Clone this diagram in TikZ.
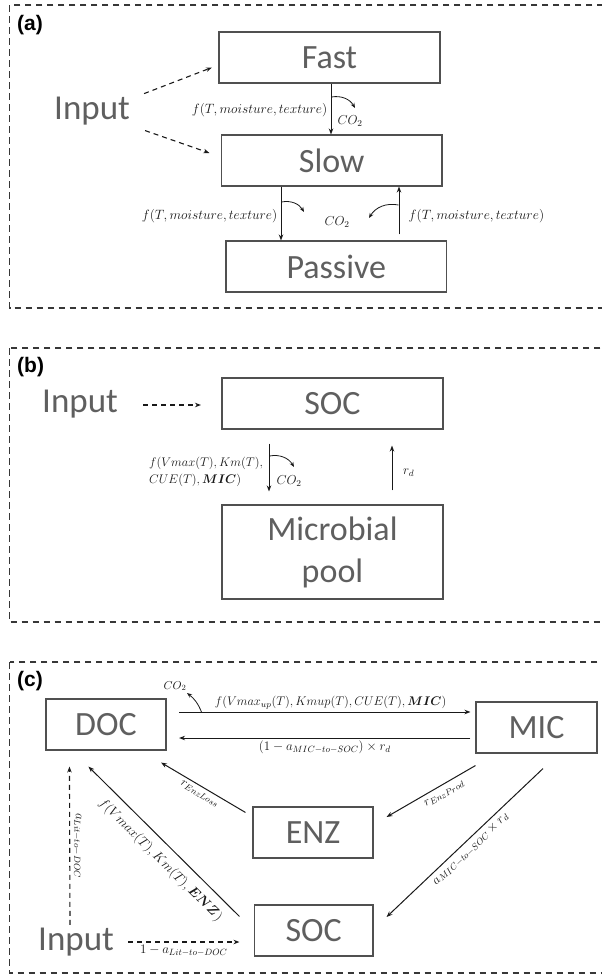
\RequirePackage{fix-cm}
\documentclass[tikz,border=0pt]{standalone}
\usepackage{amsmath}
\usepackage{bm}
\usepackage{fontspec}
\newfontfamily\boxfont{Carlito}
\newfontfamily\tagfont{Liberation Sans}
\usetikzlibrary{arrows.meta,calc}
\definecolor{txtgray}{RGB}{95,95,95}
\definecolor{boxgray}{RGB}{80,80,80}
\definecolor{framegray}{RGB}{55,55,55}
\definecolor{arrcol}{RGB}{25,25,25}
\begin{document}
\begin{tikzpicture}[x=1pt,y=-1pt,
  box/.style={draw=boxgray,line width=1.1pt,inner sep=0pt,text=txtgray,
    font=\boxfont\fontsize{34}{42}\selectfont},
  frame/.style={draw=framegray,line width=1.3pt,dash pattern=on 6.5pt off 4.5pt},
  arr/.style={draw=arrcol,line width=1pt,-{Stealth[length=6pt,width=4.5pt]}},
  rarr/.style={draw=arrcol,line width=1pt,{Stealth[length=6pt,width=4.5pt]}-},
  darr/.style={arr,line width=1.1pt,dash pattern=on 5pt off 4pt},
  carr/.style={draw=arrcol,line width=0.8pt,-{Stealth[length=5pt,width=4pt]}},
  inlbl/.style={text=txtgray,font=\boxfont\fontsize{35}{42}\selectfont,inner sep=0pt},
  tag/.style={font=\tagfont\bfseries\fontsize{21}{24}\selectfont,inner sep=0pt,anchor=west},
  lbl/.style={font=\fontsize{13.5}{16}\selectfont,inner sep=1.5pt,text=arrcol},
  mlbl/.style={font=\fontsize{13}{15}\selectfont,inner sep=2pt,text=arrcol},
  slbl/.style={font=\fontsize{12.5}{14}\selectfont,inner sep=2pt,text=arrcol},
]
\useasboundingbox (0,0) rectangle (602,977);

% ---------------- panel (a)
\draw[frame] (9.6,5) rectangle (614,308);
\node[tag] (taga) at (17,25) {(a)};
\node[box,minimum width=221pt,minimum height=51pt] (fast) at (329.5,57.5) {Fast};
\node[box,minimum width=220.5pt,minimum height=51pt] (slow) at (331.75,160.5) {Slow};
\node[box,minimum width=220.5pt,minimum height=51pt] (passive) at (336.25,266.5) {Passive};
\node[inlbl,anchor=base west] (ina) at (54,119) {Input};
\draw[darr] ($(ina.east)+(14,-17)$) -- ($(fast.west)+(-6.5,10)$);
\draw[darr] ($(ina.east)+(15,20)$) -- ($(slow.west)+(-11.5,-7.5)$);

\coordinate (xa1) at (331,0);
\coordinate (xa2) at (281,0);
\coordinate (xa3) at (399,0);
\draw[arr] (fast.south -| xa1) -- (slow.north -| xa1);
\draw[arr] (slow.south -| xa2) -- (passive.north -| xa2);
\draw[arr,shorten <=6pt] (passive.north -| xa3) -- (slow.south -| xa3);

\coordinate (ca1s) at (331.5,97);
\coordinate (ca1e) at (355,108);
\draw[carr] (ca1s) to[bend left=35] (ca1e);
\coordinate (ca2s) at (281.5,202);
\coordinate (ca2e) at (304,212);
\draw[carr] (ca2s) to[bend left=35] (ca2e);
\coordinate (ca3s) at (398.5,205);
\coordinate (ca3e) at (369,218);
\draw[carr] (ca3s) to[bend right=35] (ca3e);

\node[lbl,anchor=east] (la1) at (329,110) {$f(T,moisture,texture)$};
\node[mlbl] (co2a1) at (350,121) {$CO_2$};
\node[lbl,anchor=east] (la2) at (279,216) {$f(T,moisture,texture)$};
\node[lbl,anchor=west] (la3) at (407,216) {$f(T,moisture,texture)$};
\node[mlbl] (co2a2) at (337,222) {$CO_2$};

% ---------------- panel (b)
\draw[frame] (9.6,348) rectangle (614,622);
\node[tag] (tagb) at (17,367) {(b)};
\node[inlbl,anchor=base west] (inb) at (42,412) {Input};
\node[box,minimum width=221pt,minimum height=51pt] (socb) at (332.5,403.5) {SOC};
\node[box,minimum width=221pt,minimum height=94pt,align=center] (micb) at (332.5,552) {Microbial\\pool};
\draw[darr] ($(inb.east |- socb.west)+(25,1.5)$) -- ($(socb.west)+(-20.5,1.5)$);

\coordinate (xb1) at (269,0);
\coordinate (xb2) at (392,0);
\draw[arr,shorten <=14pt,shorten >=13pt] (socb.south -| xb1) -- (micb.north -| xb1);
\draw[arr,shorten <=14pt,shorten >=16pt] (micb.north -| xb2) -- (socb.south -| xb2);
\coordinate (cbs) at (269.5,456);
\coordinate (cbe) at (294,467);
\draw[carr] (cbs) to[bend left=35] (cbe);
\node[mlbl] (co2b) at (289,481) {$CO_2$};
\node[font=\fontsize{12.5}{17}\selectfont,text=arrcol,inner sep=0pt,anchor=west,align=left] (lb1) at (149,471.5)
  {$f(Vmax(T),Km(T),$\\$CUE(T),\bm{MIC})$};
\node[mlbl,anchor=west] (rdb) at (401,473) {$r_d$};

% ---------------- panel (c)
\draw[frame] (9.6,662) rectangle (614,973);
\node[tag] (tagc) at (17,681) {(c)};
\node[box,minimum width=120pt,minimum height=51pt] (doc) at (106,724.5) {DOC};
\node[box,minimum width=121pt,minimum height=51pt] (mic) at (536.5,727.5) {MIC};
\node[box,minimum width=120pt,minimum height=51pt] (enz) at (313,832.5) {ENZ};
\node[box,minimum width=118.5pt,minimum height=51pt] (socc) at (313.75,930.5) {SOC};
\node[inlbl,anchor=base west] (inc) at (38,950) {Input};

\draw[arr] ($(doc.east)+(12.5,-12.5)$) -- ($(mic.west)+(-5,-15.5)$)
  node[lbl,font=\fontsize{12.5}{15}\selectfont,pos=0.52,above=1pt] {$f(Vmax_{up}(T),Kmup(T),CUE(T),\bm{MIC})$};
\draw[arr] ($(mic.west)+(-5,10.5)$) -- ($(doc.east)+(12.5,13.5)$)
  node[mlbl,midway,below=0pt] {$(1-a_{MIC-to-SOC})\times r_d$};
\coordinate (ccs) at (201.5,712);
\coordinate (cce) at (187,693);
\draw[carr] (ccs) to[bend right=15] (cce);
\node[slbl,font=\fontsize{11.5}{13}\selectfont] (co2c) at (175,686) {$CO_2$};

\draw[rarr] ($(doc.south east)+(-5.5,12)$) -- ($(enz.north west)+(-7,6)$)
  node[slbl,midway,sloped,below=1pt] {$r_{EnzLoss}$};
\draw[rarr] ($(enz.east)+(13,-15.5)$) -- ($(mic.south west)+(0,12)$)
  node[slbl,pos=0.6,sloped,below=3pt] {$r_{EnzProd}$};
\draw[rarr] ($(socc.east)+(13,-13.5)$) -- ($(mic.south)+(6.5,15)$)
  node[mlbl,midway,sloped,below=1pt] {$a_{MIC-to-SOC}\times r_d$};
\draw[rarr] ($(doc.south west)+(43,16)$) -- ($(socc.north west)+(-14.5,12)$)
  node[lbl,pos=0.55,sloped,below=7pt] {$f(Vmax(T),Km(T),\bm{ENZ})$};
\draw[darr] ($(inc.north west)+(32,-2.5)$) -- ($(doc.south west)+(24,16)$)
  node[mlbl,midway,sloped,above=1pt] {$a_{Lit-to-DOC}$};
\draw[darr] ($(inc.base east)+(14,-8)$) -- ($(socc.west)+(-14.5,11.5)$)
  node[mlbl,midway,below=1pt] {$1-a_{Lit-to-DOC}$};
\end{tikzpicture}
\end{document}
